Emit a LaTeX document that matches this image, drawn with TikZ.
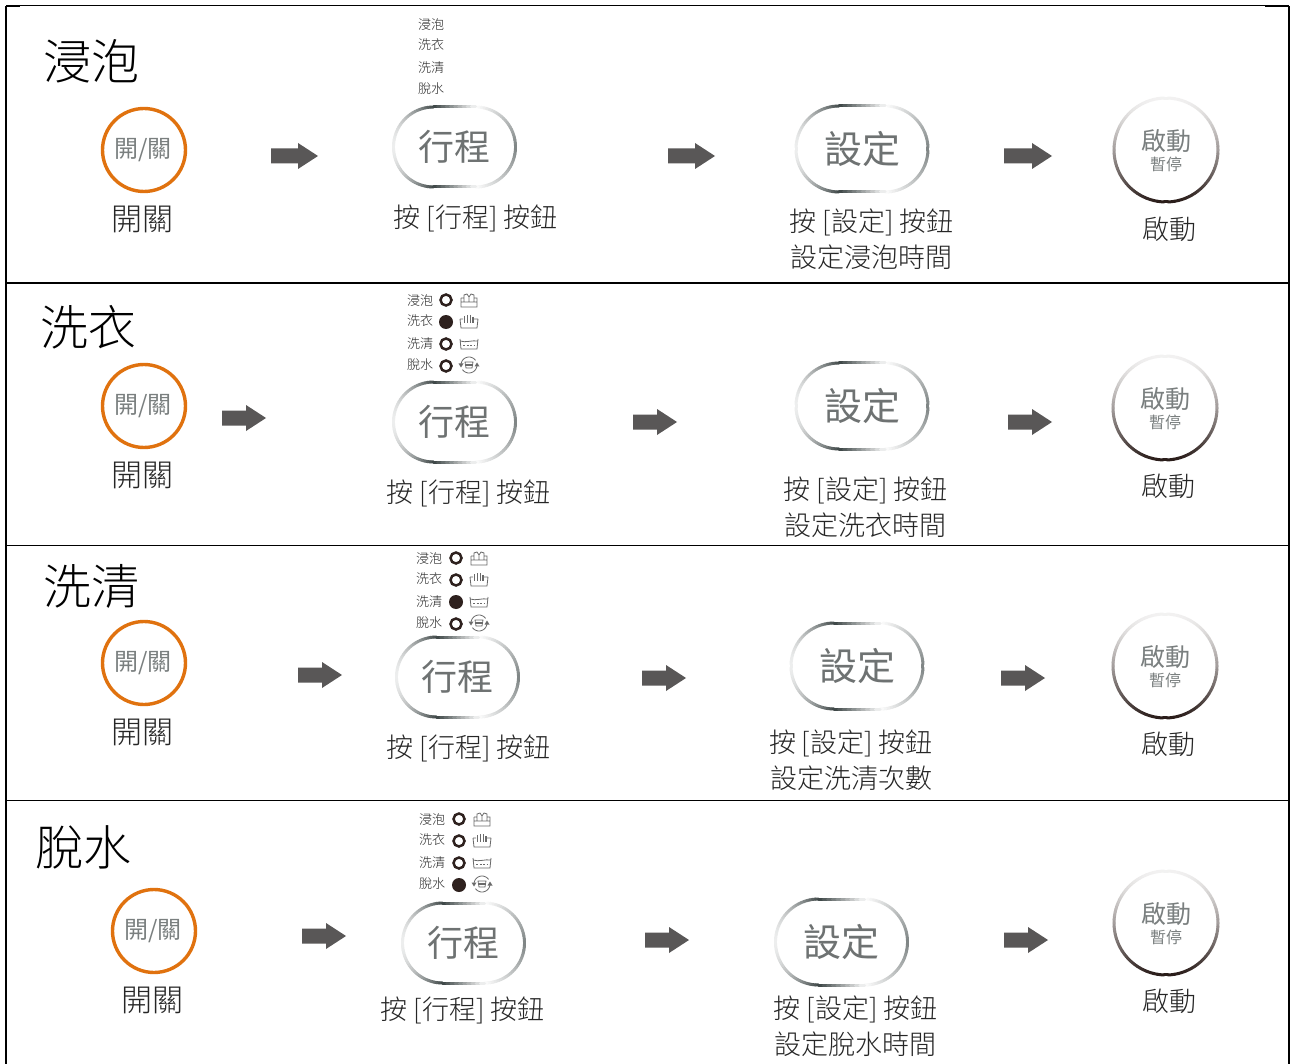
\documentclass[tikz,border=0pt]{standalone}
\usepackage{fontspec}
\setmainfont{Noto Sans CJK TC Light}
\newfontfamily\keyfont{Noto Sans CJK TC}
\definecolor{ringdark}{HTML}{263030}
\definecolor{rounddark}{HTML}{2E211E}
\definecolor{keyorange}{HTML}{E0720F}
\definecolor{keygray}{HTML}{7A7F7F}
\definecolor{maintext}{HTML}{262626}
\definecolor{arrowgray}{HTML}{595757}
\definecolor{icongray}{HTML}{6A6A6A}
\tikzset{
  frameline/.style={draw=black,line width=1.5pt},
  blockarrow/.style={fill=arrowgray,draw=none},
  ringseg/.style={line width=3pt,line cap=round},
  powerring/.style={circle,draw=keyorange,line width=3.4pt,minimum size=83pt,inner sep=0pt},
  led/.style={circle,draw=rounddark,line width=2.5pt,minimum size=11pt,inner sep=0pt},
  ledon/.style={circle,fill=rounddark,minimum size=14pt,inner sep=0pt},
  iconline/.style={draw=icongray,line width=0.8pt},
}
\newcommand{\tx}[6]{\node[text=#5,inner sep=0pt,font=\fontsize{#4}{#4}\selectfont] (#1) at (#2,#3+1) {#6};}
\newcommand{\blockarr}[3]{\fill[blockarrow] (#1,#3-7.5) -- (#2-20,#3-7.5) -- (#2-20,#3-13) -- (#2,#3) -- (#2-20,#3+13) -- (#2-20,#3+7.5) -- (#1,#3+7.5) -- cycle;}
% pill key: name, cx, cy, half straight, radius, label
\newcommand{\pillkey}[6]{%
\begin{scope}[shift={(#2,#3)}]
 \foreach \a in {90,94,...,266}{
  \pgfmathsetmacro{\p}{8+80*(abs(\a-180)/90)^1.8}
  \draw[ringseg,color=ringdark!\p!white] ({-#4+#5*cos(\a)},{#5*sin(\a)}) -- ({-#4+#5*cos(\a+4)},{#5*sin(\a+4)});
 }
 \foreach \a in {-90,-86,...,86}{
  \pgfmathsetmacro{\p}{60*(1-abs(\a)/90)}
  \draw[ringseg,color=ringdark!\p!white] ({#4+#5*cos(\a)},{#5*sin(\a)}) -- ({#4+#5*cos(\a+4)},{#5*sin(\a+4)});
 }
 \foreach \t in {0,0.1,...,0.95}{
  \pgfmathsetmacro{\p}{88*(1-\t)}
  \draw[ringseg,color=ringdark!\p!white] ({-#4+2*#4*\t},-#5) -- ({-#4+2*#4*(\t+0.1)},-#5);
  \draw[ringseg,color=ringdark!\p!white] ({-#4+2*#4*\t},#5) -- ({-#4+2*#4*(\t+0.1)},#5);
 }
\end{scope}
\tx{#1}{#2}{#3-1}{38}{keygray!90!black}{\keyfont #6}}
% start key: name, cx, cy
\newcommand{\startkey}[3]{%
\begin{scope}[shift={(#2,#3)}]
 \foreach \a in {0,4,...,356}{
  \pgfmathsetmacro{\p}{6+96*((1+sin(\a+2))/2)^1.3}
  \draw[ringseg,color=rounddark!\p!white] (\a:52) -- (\a+4:52);
 }
\end{scope}
\tx{#1a}{#2}{#3-10}{25}{keygray}{\keyfont 啟動}
\tx{#1b}{#2}{#3+13}{16}{keygray}{\keyfont 暫停}}
\newcommand{\powerkey}[4]{%
\node[powerring] (#1) at (#2,#3) {};
\tx{#1a}{#2-1}{#3-0.5}{24}{keygray}{\keyfont 開/關}
\tx{#1b}{#2-2}{#4-1}{31}{maintext}{開關}}
% small icons
\newcommand{\iconsoak}[2]{\draw[iconline] (#1-8,#2-3) -- (#1-8,#2+6) -- (#1+8,#2+6) -- (#1+8,#2-3) -- (#1+5,#2-3) (#1-8,#2-3) -- (#1-5,#2-3) (#1-5,#2+1) -- (#1-5,#2-6) -- (#1-2,#2-7) -- (#1,#2-4) -- (#1+2,#2-7) -- (#1+5,#2-6) -- (#1+5,#2+1) (#1,#2-4) -- (#1,#2+1) (#1-8,#2+1) -- (#1+8,#2+1);}
\newcommand{\iconwash}[2]{\draw[iconline] (#1-9,#2-3) -- (#1-8,#2+6) -- (#1+8,#2+6) -- (#1+9,#2-3) (#1-9,#2-3) -- (#1-6,#2-3) (#1+5,#2-3) -- (#1+9,#2-3);
 \draw[iconline,line width=1.3pt] (#1-4.5,#2-6) -- (#1-4.5,#2+1) (#1-1.5,#2-7) -- (#1-1.5,#2+1) (#1+1.5,#2-7) -- (#1+1.5,#2+1) (#1+4,#2-5) -- (#1+4,#2+1);}
\newcommand{\iconrinse}[2]{\draw[iconline] (#1-9,#2-5) -- (#1-8,#2+5) -- (#1+8,#2+5) -- (#1+9,#2-5) (#1-9,#2-3) .. controls (#1-3,#2-1) and (#1+3,#2-4) .. (#1+9,#2-3);
 \draw[iconline,dash pattern=on 2pt off 1.5pt] (#1-6,#2+1) -- (#1+6,#2+1);}
\newcommand{\iconspin}[2]{%
 \draw[iconline] (#1-4,#2-3) -- (#1+4,#2-3) -- (#1+3,#2+3) -- (#1-3,#2+3) -- cycle;
 \draw[iconline,line width=1.1pt] (#1-3,#2) -- (#1+3,#2);
 \draw[iconline,shift={(#1,#2)}] plot[domain=180:325,samples=14] (\x:8);
 \draw[iconline,shift={(#1,#2)}] plot[domain=0:145,samples=14] (\x:8);
 \fill[icongray] (#1-8,#2+2.5) -- (#1-10.5,#2-1.5) -- (#1-5.5,#2-1.5) -- cycle;
 \fill[icongray] (#1+8,#2-2.5) -- (#1+10.5,#2+1.5) -- (#1+5.5,#2+1.5) -- cycle;}
% indicator column: row, label x, led x, icon x, first y, active item
\newcommand{\indicators}[6]{%
\tx{#1la}{#2}{#5}{13}{maintext}{浸泡}
\tx{#1lb}{#2}{#5+20}{13}{maintext}{洗衣}
\tx{#1lc}{#2}{#5+43}{13}{maintext}{洗清}
\tx{#1ld}{#2}{#5+64}{13}{maintext}{脫水}
\foreach \i/\o in {1/0,2/22,3/44,4/66}{
 \ifnum\i=#6\relax \node[ledon] (#1dot\i) at (#3,#5+\o) {};
 \else \node[led] (#1dot\i) at (#3,#5+\o) {};\fi
}
\iconsoak{#4}{#5+1}\iconwash{#4}{#5+22}\iconrinse{#4}{#5+44}\iconspin{#4}{#5+65}}
\begin{document}
\begin{tikzpicture}[x=1pt,y=-1pt]
\useasboundingbox (0,0) rectangle (1290,1064);
\fill[white] (0,0) rectangle (1290,1064);
% frame
\draw[frameline,line width=1.8pt] (6,1064) -- (6,6);
\draw[frameline,line width=1pt] (6,6) -- (1289,6);
\draw[frameline,line width=1.8pt] (6,6) -- (20,6) (1265,6) -- (1289,6);
\draw[frameline,line width=1.8pt] (1289,6) -- (1289,1064);
\draw[frameline,line width=1.2pt] (6,283) -- (1289,283);
\draw[frameline,line width=1pt] (6,545) -- (1289,545);
\draw[frameline,line width=1pt] (6,800) -- (1289,800);
% row 1
\tx{ta}{91}{60.5}{48}{black}{浸泡}
\powerkey{pa}{144}{150}{219}
\blockarr{271}{318}{156}
\tx{aa}{431}{24}{13}{maintext}{浸泡}
\tx{ab}{431}{44}{13}{maintext}{洗衣}
\tx{ac}{431}{67}{13}{maintext}{洗清}
\tx{ad}{431}{88}{13}{maintext}{脫水}
\pillkey{ka}{454.5}{147}{21}{40}{\fontsize{36}{36}\selectfont 行程}
\tx{kat}{475.5}{217}{27}{maintext}{按 [行程] 按鈕}
\blockarr{668}{715}{156}
\pillkey{sa}{862}{149}{23}{43}{設定}
\tx{sat}{871.5}{221.5}{27}{maintext}{按 [設定] 按鈕}
\tx{sau}{871.5}{256.5}{27}{maintext}{設定浸泡時間}
\blockarr{1004}{1052}{156}
\startkey{ga}{1166}{150}
\tx{gat}{1169}{228.5}{27}{maintext}{啟動}
% row 2
\tx{tb}{88}{326.5}{48}{black}{洗衣}
\powerkey{pb}{144}{406}{475}
\blockarr{222}{266}{418}
\indicators{b}{420}{446}{469}{300}{2}
\pillkey{kb}{454.5}{422}{21}{40}{\fontsize{36}{36}\selectfont 行程}
\tx{kbt}{468.5}{492}{27}{maintext}{按 [行程] 按鈕}
\blockarr{633}{677}{422}
\pillkey{sb}{862}{406}{23}{43}{設定}
\tx{sbt}{865.5}{489.5}{27}{maintext}{按 [設定] 按鈕}
\tx{sbu}{865.5}{524.5}{27}{maintext}{設定洗衣時間}
\blockarr{1008}{1052}{422}
\startkey{gb}{1165}{408}
\tx{gbt}{1168}{485.5}{27}{maintext}{啟動}
% row 3
\tx{tc}{91}{585.5}{48}{black}{洗清}
\powerkey{pc}{144}{663}{732}
\blockarr{298}{342}{675}
\indicators{c}{429}{456}{479}{558}{3}
\pillkey{kc}{457.5}{677}{21}{40}{\fontsize{36}{36}\selectfont 行程}
\tx{kct}{468.5}{747}{27}{maintext}{按 [行程] 按鈕}
\blockarr{642}{686}{678}
\pillkey{sc}{857}{666}{23}{43}{設定}
\tx{sct}{851}{742.5}{27}{maintext}{按 [設定] 按鈕}
\tx{scu}{851}{777.5}{27}{maintext}{設定洗清次數}
\blockarr{1001}{1045}{678}
\startkey{gc}{1165}{666}
\tx{gct}{1168}{743.5}{27}{maintext}{啟動}
% row 4
\tx{td}{83}{846.5}{48}{black}{脫水}
\powerkey{pd}{154}{931}{1000}
\blockarr{302}{346}{936}
\indicators{d}{432}{459}{482}{819}{4}
\pillkey{kd}{463.5}{943}{21}{40}{\fontsize{36}{36}\selectfont 行程}
\tx{kdt}{462.5}{1009}{27}{maintext}{按 [行程] 按鈕}
\blockarr{645}{689}{940}
\pillkey{sd}{841.5}{942}{23}{43}{設定}
\tx{sdt}{855.5}{1008.5}{27}{maintext}{按 [設定] 按鈕}
\tx{sdu}{855.5}{1043.5}{27}{maintext}{設定脫水時間}
\blockarr{1004}{1048}{940}
\startkey{gd}{1166}{923}
\tx{gdt}{1169}{1000.5}{27}{maintext}{啟動}
\end{tikzpicture}
\end{document}
